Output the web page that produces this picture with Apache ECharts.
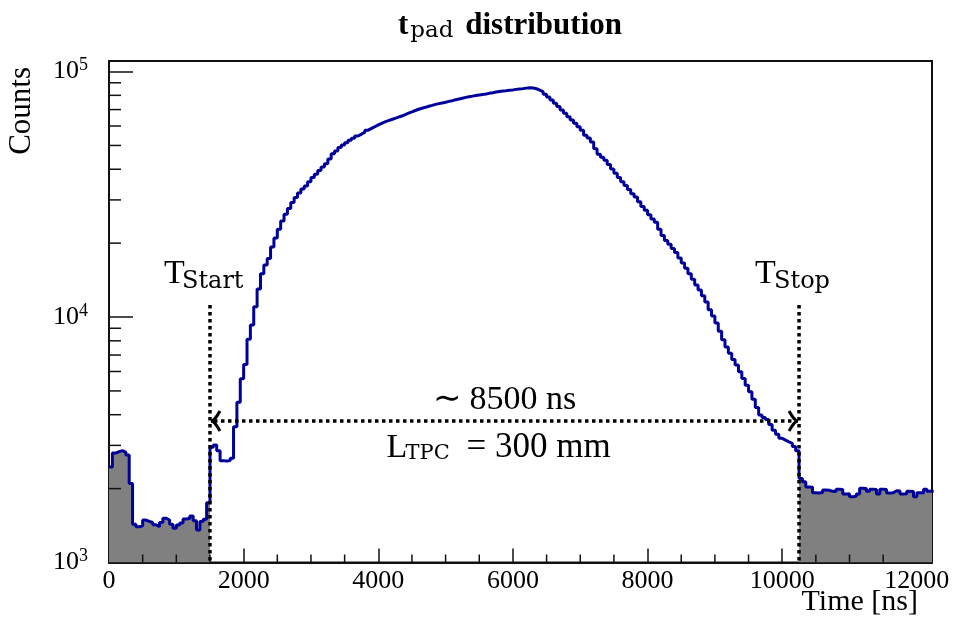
<!DOCTYPE html>
<html><head><meta charset="utf-8">
<script src="https://cdn.jsdelivr.net/npm/echarts@6/dist/echarts.min.js"></script>
<style>html,body{margin:0;padding:0;background:#fff}#c{width:957px;height:618px}</style>
</head><body><div id="c"></div>
<script>
// ---- data ----
const binWidth = 50; // ns per histogram bin
// bins 0..29  (0 - 1500 ns), before T_Start
const countsPre = [2450, 2790, 2830, 2855, 2810, 2740, 2100, 1431, 1399, 1410,
  1489, 1470, 1455, 1425, 1400, 1455, 1514, 1490, 1430, 1378,
  1420, 1450, 1505, 1510, 1546, 1480, 1356, 1470, 1500, 1750];
// bins 30..204 (1500 - 10250 ns), drift window
const countsDrift = [2950, 3010, 2850, 2600, 2590, 2600, 2657, 3574, 4500, 5600,
  6400, 8110, 9270, 11000, 13000, 15000, 16300, 17300, 19300, 21000,
  22800, 24600, 26200, 27700, 29300, 30700, 32000, 33200, 34200, 35600,
  37000, 38200, 39500, 40800, 42100, 44000, 46200, 47500, 49000, 50200,
  51300, 52500, 53500, 54600, 55600, 56600, 57700, 58700, 59600, 60600,
  61500, 62400, 63100, 63800, 64500, 65200, 65900, 66800, 67700, 68500,
  69400, 70200, 70900, 71500, 72200, 72800, 73500, 74000, 74500, 75000,
  75600, 76100, 76700, 77300, 77900, 78500, 79000, 79400, 79900, 80300,
  80700, 81000, 81500, 81900, 82500, 83000, 83300, 83600, 84000, 84200,
  84600, 84900, 85200, 85600, 85900, 85700, 85100, 84000, 82600, 80800,
  78800, 76600, 74300, 72000, 69700, 67600, 65500, 63500, 61500, 59600,
  57600, 55000, 53600, 51700, 48500, 46000, 44800, 43500, 41800, 40100,
  38500, 37000, 35600, 34300, 33100, 31800, 30800, 29500, 28200, 27200,
  26100, 25100, 24300, 22800, 21500, 20500, 19800, 19000, 18300, 17400,
  16600, 15800, 15000, 14250, 13500, 12900, 12200, 11500, 10700, 10100,
  9450, 8750, 8080, 7550, 7120, 6720, 6380, 5980, 5620, 5270,
  4965, 4620, 4280, 3990, 3900, 3820, 3650, 3460, 3330, 3205,
  3150, 3100, 3060, 2970, 2850];
// bins 205..244 (10250 - 12250 ns), after T_Stop
const countsPost = [2200, 2133, 2030, 2024, 1924, 1920, 1930, 1973, 1970, 1950,
  1945, 1990, 1985, 1901, 1905, 1853, 1860, 1901, 2005, 2000,
  1950, 1990, 1985, 1901, 1990, 1985, 1920, 1925, 1960, 1955,
  1901, 1905, 1950, 1945, 1853, 1924, 1920, 1990, 1950, 1950];

const xTickLabels = ['0', '2000', '4000', '6000', '8000', '10000', '12000'];
const xMinorTickValues = [500, 1000, 1500, 2500, 3000, 3500, 4500, 5000, 5500, 6500, 7000, 7500,
  8500, 9000, 9500, 10500, 11000, 11500];
const yMinorTickValues = [2000, 3000, 4000, 5000, 6000, 7000, 8000, 9000,
  20000, 30000, 40000, 50000, 60000, 70000, 80000, 90000];

const xMin = 0, xMax = 12225, yMin = 1000, yMax = 110400;
const markStart = 1500, markStop = 10250; // ns
const markTop = 11200, arrowLevel = 3770;  // counts

// ---- build ----
const allCounts = countsPre.concat(countsDrift, countsPost);
function toSteps(counts, firstBin) {
  const pts = counts.map((c, i) => [(firstBin + i) * binWidth, c]);
  pts.push([(firstBin + counts.length) * binWidth, counts[counts.length - 1]]);
  return pts;
}
const SERIF = '"Liberation Serif", "Times New Roman", serif';
const SUBF = '"DejaVu Serif", serif';

function tickSeries(values, horizontal, len) {
  return {
    type: 'custom', silent: true, z: 5, clip: false,
    data: values.map(v => horizontal ? [xMin, v] : [v, yMin]),
    encode: {x: 0, y: 1},
    renderItem: function (params, api) {
      const p = api.coord([api.value(0), api.value(1)]);
      const shape = horizontal ? {x1: p[0], y1: p[1], x2: p[0] + len, y2: p[1]}
                               : {x1: p[0], y1: p[1], x2: p[0], y2: p[1] - len};
      return {type: 'line', shape: shape, style: {stroke: '#111', lineWidth: 1.5}};
    }
  };
}

function renderMarks(params, api) {
  const s0 = api.coord([markStart, markTop]), s1 = api.coord([markStart, yMin]);
  const e0 = api.coord([markStop, markTop]), e1 = api.coord([markStop, yMin]);
  const a = api.coord([markStart, arrowLevel]), b = api.coord([markStop, arrowLevel]);
  const dot = {stroke: '#000', lineWidth: 3.5, lineDash: [3.5, 3.5], fill: null};
  const solid = {stroke: '#000', lineWidth: 3, fill: null};
  const mid = (a[0] + b[0]) / 2;
  const t = (txt, x, y, font, align) => ({type: 'text', x: x, y: y,
    style: {text: txt, font: font, fill: '#000', align: align || 'left', verticalAlign: 'middle'}});
  return {type: 'group', children: [
    {type: 'line', shape: {x1: s0[0], y1: s0[1], x2: s1[0], y2: s1[1]}, style: dot},
    {type: 'line', shape: {x1: e0[0], y1: e0[1], x2: e1[0], y2: e1[1]}, style: dot},
    {type: 'line', shape: {x1: a[0] + 4, y1: a[1], x2: b[0] - 4, y2: b[1]}, style: dot},
    {type: 'bezierCurve', shape: {x1: a[0] + 10, y1: a[1] - 10, cpx1: a[0] + 6, cpy1: a[1] - 3, cpx2: a[0] + 4, cpy2: a[1], x2: a[0] + 1, y2: a[1]}, style: solid},
    {type: 'bezierCurve', shape: {x1: a[0] + 10, y1: a[1] + 10, cpx1: a[0] + 6, cpy1: a[1] + 3, cpx2: a[0] + 4, cpy2: a[1], x2: a[0] + 1, y2: a[1]}, style: solid},
    {type: 'bezierCurve', shape: {x1: b[0] - 10, y1: b[1] - 10, cpx1: b[0] - 6, cpy1: b[1] - 3, cpx2: b[0] - 4, cpy2: b[1], x2: b[0] - 1, y2: b[1]}, style: solid},
    {type: 'bezierCurve', shape: {x1: b[0] - 10, y1: b[1] + 10, cpx1: b[0] - 6, cpy1: b[1] + 3, cpx2: b[0] - 4, cpy2: b[1], x2: b[0] - 1, y2: b[1]}, style: solid},
    t('T', s0[0] - 46, s0[1] - 31, '34px ' + SERIF),
    t('Start', s0[0] - 28, s0[1] - 23, '24px ' + SUBF),
    t('T', e0[0] - 44, e0[1] - 31, '34px ' + SERIF),
    t('Stop', e0[0] - 25, e0[1] - 23, '24px ' + SUBF),
    t('\u223C 8500 ns', mid, a[1] - 21, '34px ' + SERIF, 'center'),
    t('L', mid - 118, a[1] + 27, '34px ' + SERIF),
    t('TPC', mid - 99, a[1] + 33, '21px ' + SUBF),
    t('= 300 mm', mid - 38, a[1] + 27, '35px ' + SERIF)
  ]};
}

const chart = echarts.init(document.getElementById('c'), null, {renderer: 'canvas'});
chart.setOption({
  backgroundColor: '#fff',
  animation: false,
  title: [{
    text: '{b|t}{s|pad}{b| distribution}',
    left: 393, top: 4,
    textStyle: {rich: {
      b: {fontFamily: SERIF, fontWeight: 'bold', fontSize: 31, lineHeight: 34, color: '#000'},
      s: {fontFamily: SUBF, fontWeight: 'normal', fontSize: 23, lineHeight: 18, verticalAlign: 'bottom', color: '#000', padding: [0, 4, 0, 2]}
    }}
  }],
  graphic: [
    {type: 'text', x: 22, y: 67, rotation: Math.PI / 2,
      style: {text: 'Counts', font: '31px ' + SERIF, fill: '#000', align: 'right', verticalAlign: 'middle'}},
    {type: 'text', x: 918, y: 602,
      style: {text: 'Time [ns]', font: '30px ' + SERIF, fill: '#000', align: 'right', verticalAlign: 'middle'}}
  ],
  grid: {left: 109, right: 25, top: 61, bottom: 55.5, show: true, borderColor: '#111', borderWidth: 2,
    backgroundColor: 'transparent', containLabel: false, outerBoundsMode: 'none'},
  xAxis: {
    type: 'value', min: xMin, max: xMax, interval: 2000,
    axisLine: {show: true, onZero: false, lineStyle: {color: '#111', width: 2}},
    axisTick: {show: true, inside: true, length: 14, lineStyle: {color: '#111', width: 1.5}},
    minorTick: {show: false},
    splitLine: {show: false},
    axisLabel: {
      margin: 6, color: '#000', fontFamily: SERIF, fontSize: 26, showMaxLabel: false,
      formatter: v => { const i = Math.round(v / 2000); return (Math.abs(v - i * 2000) < 1e-6 && xTickLabels[i] !== undefined) ? xTickLabels[i] : ''; }
    }
  },
  yAxis: {
    type: 'log', logBase: 10, min: yMin, max: yMax,
    axisLine: {show: true, onZero: false, lineStyle: {color: '#111', width: 2}},
    axisTick: {show: true, inside: true, length: 24, lineStyle: {color: '#111', width: 1.5}},
    minorTick: {show: false},
    splitLine: {show: false},
    axisLabel: {
      margin: 21, color: '#000', showMaxLabel: false, fontFamily: SERIF, fontSize: 26,
      formatter: v => { const e = Math.log10(v); return Math.abs(e - Math.round(e)) < 1e-6 ? '{b|10}{p|' + Math.round(e) + '}' : ''; },
      rich: {
        b: {fontFamily: SERIF, fontSize: 26, lineHeight: 30, color: '#000'},
        p: {fontFamily: SERIF, fontSize: 18, lineHeight: 18, verticalAlign: 'top', color: '#000'}
      }
    }
  },
  series: [
    {type: 'line', name: 'pre', data: toSteps(countsPre, 0), step: 'end', symbol: 'none', silent: true, z: 1,
      lineStyle: {width: 0, opacity: 0}, areaStyle: {color: '#808080', opacity: 1, origin: 'start'}},
    {type: 'line', name: 'post', data: toSteps(countsPost, countsPre.length + countsDrift.length), step: 'end', symbol: 'none', silent: true, z: 1,
      lineStyle: {width: 0, opacity: 0}, areaStyle: {color: '#808080', opacity: 1, origin: 'start'}},
    {type: 'line', name: 't_pad', data: toSteps(allCounts, 0), step: 'end', symbol: 'none', silent: true, z: 3,
      lineStyle: {color: '#00009a', width: 3}, clip: true},
    tickSeries(yMinorTickValues, true, 12),
    tickSeries(xMinorTickValues, false, 8),
    {type: 'custom', silent: true, z: 10, clip: false, data: [[markStart, arrowLevel]], encode: {x: 0, y: 1}, renderItem: renderMarks}
  ]
});
</script>
</body></html>
